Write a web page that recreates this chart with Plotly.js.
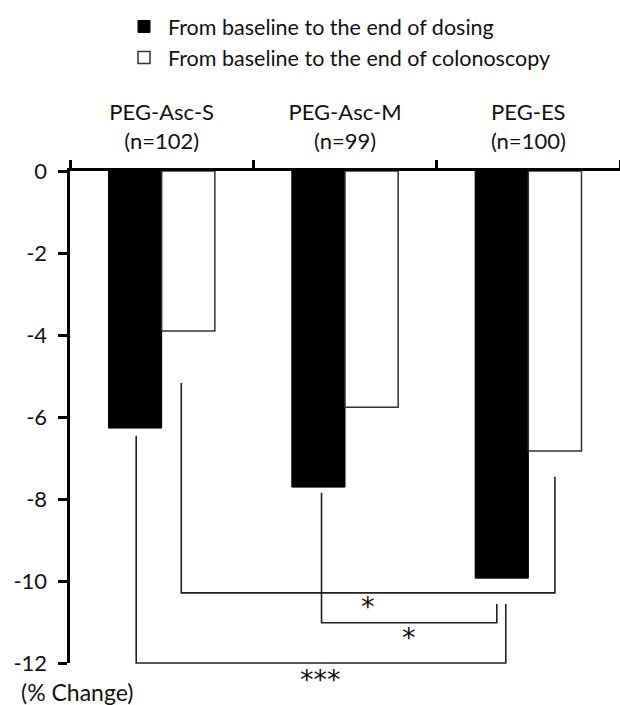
<!DOCTYPE html>
<html><head><meta charset="utf-8">
<script src="https://cdn.plot.ly/plotly-3.0.1.min.js"></script>
<style>html,body{margin:0;padding:0;background:#fff}#chart{width:620px;height:705px}</style>
</head><body><div id="chart"></div>
<script>
// ---- data ----
const categories = ['PEG-Asc-S', 'PEG-Asc-M', 'PEG-ES'];
const sampleSizes = [102, 99, 100];
const seriesNames = ['From baseline to the end of dosing', 'From baseline to the end of colonoscopy'];
const dosingChange = [-6.27, -7.71, -9.93];
const colonoscopyChange = [-3.90, -5.76, -6.83];
const yTickValues = [0, -2, -4, -6, -8, -10, -12];
const yTickLabels = ['0', '-2', '-4', '-6', '-8', '-10', '-12'];
const yUnitLabel = '(% Change)';
// significance brackets (x in category units, y in % change)
const compLeftX = [0.107, 0.872, -0.139];
const compLeftTop = [-5.17, -7.85, -6.46];
const compRightX = [2.145, 1.828, 1.877];
const compRightTop = [-7.46, -10.56, -10.56];
const compLevel = [-10.29, -11.02, -12.0];
const compLabels = ['*', '*', '***'];
const compLabelX = [1.123, 1.347, 0.866];
const compLabelY = [-10.62, -11.38, -12.4];

// ---- layout helpers ----
const FONT = 'Lato, "Open Sans", sans-serif';
const xIdx = categories.map((c, i) => i);
const xRange = [-0.5, categories.length - 0.5];
const yRange = [-12, 0];
const px = v => (v - xRange[0]) / (xRange[1] - xRange[0]);
const py = v => (v - yRange[0]) / (yRange[1] - yRange[0]);
const boundaries = [];
for (let i = 0; i <= categories.length; i++) boundaries.push(i - 0.5);

const traces = [
  {type: 'bar', x: xIdx, y: dosingChange, name: seriesNames[0], legendgroup: 'a',
   marker: {color: '#000', line: {color: '#000', width: 1}}, hoverinfo: 'y'},
  {type: 'bar', x: xIdx, y: colonoscopyChange, name: seriesNames[1], legendgroup: 'b',
   marker: {color: '#fff', line: {color: '#333', width: 1.5}}, hoverinfo: 'y'},
  {type: 'scatter', x: xIdx, y: xIdx.map(() => null), xaxis: 'x2', showlegend: false, hoverinfo: 'skip'}
];

const shapes = [];
const annotations = [];
const lineStyle = {color: '#222', width: 1.6};
compLevel.forEach((lvl, i) => {
  shapes.push({type: 'path', xref: 'paper', yref: 'paper', line: lineStyle,
    path: `M${px(compLeftX[i])},${py(compLeftTop[i])} L${px(compLeftX[i])},${py(lvl)} L${px(compRightX[i])},${py(lvl)} L${px(compRightX[i])},${py(compRightTop[i])}`
  });
  annotations.push({xref: 'paper', yref: 'paper', x: px(compLabelX[i]), y: py(compLabelY[i]),
    text: compLabels[i], showarrow: false, font: {family: '"DejaVu Sans", sans-serif', size: 27, color: '#111'},
    xanchor: 'center', yanchor: 'middle'});
});
// unit label below the y axis (pixel placement converted to paper units)
annotations.push({xref: 'paper', yref: 'paper', x: (77 - 70) / 550, y: -(692 - 663) / 492,
  text: yUnitLabel, showarrow: false, xanchor: 'center', yanchor: 'middle',
  font: {family: FONT, size: 23, color: '#111'}});

const layout = {
  width: 620, height: 705,
  margin: {l: 70, r: 0, t: 171, b: 42, autoexpand: false},
  paper_bgcolor: '#fff', plot_bgcolor: '#fff',
  font: {family: FONT, size: 22, color: '#111'},
  barmode: 'group', bargap: 0.42, bargroupgap: 0,
  showlegend: true,
  legend: {xref: 'container', yref: 'container', x: 120 / 620, y: 1 - 6 / 705,
    xanchor: 'left', yanchor: 'top', font: {family: FONT, size: 21.5, color: '#111'},
    tracegroupgap: 5, traceorder: 'normal', bgcolor: 'rgba(0,0,0,0)', itemwidth: 38},
  xaxis: {type: 'linear', range: xRange, side: 'top', tickmode: 'array', tickvals: boundaries,
    ticks: 'outside', ticklen: 8, tickwidth: 3, tickcolor: '#000', showticklabels: false,
    showline: true, linewidth: 3.5, linecolor: '#000', showgrid: false, zeroline: false, fixedrange: true},
  xaxis2: {type: 'linear', range: xRange, overlaying: 'x', side: 'top', tickmode: 'array',
    tickvals: xIdx, ticktext: categories.map((c, i) => `${c}<br>(n=${sampleSizes[i]})`),
    ticks: '', showline: false, showgrid: false, zeroline: false, ticklabelstandoff: 17, tickangle: 0,
    tickfont: {family: FONT, size: 22, color: '#111'}, fixedrange: true},
  yaxis: {range: yRange, tickmode: 'array', tickvals: yTickValues, ticktext: yTickLabels,
    ticks: 'outside', ticklen: 9, tickwidth: 3, tickcolor: '#000', ticklabelstandoff: 6,
    showline: true, linewidth: 3.5, linecolor: '#000', showgrid: false, zeroline: false,
    tickfont: {family: FONT, size: 22, color: '#111'}, fixedrange: true},
  shapes: shapes,
  annotations: annotations
};

Plotly.newPlot('chart', traces, layout, {displayModeBar: false, staticPlot: true});
</script></body></html>
